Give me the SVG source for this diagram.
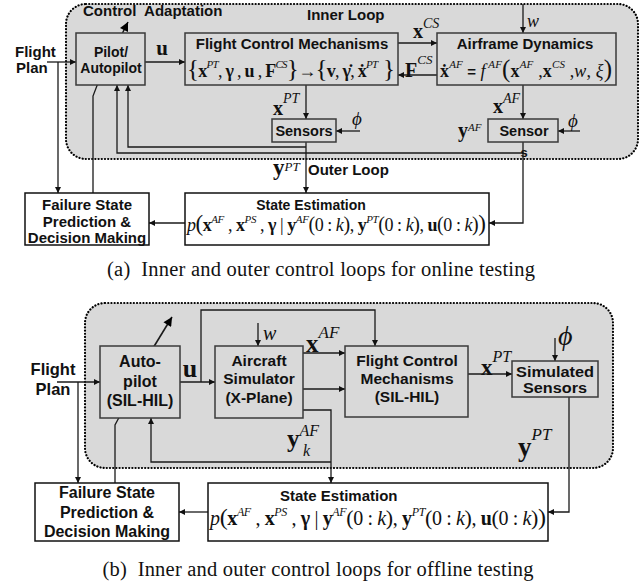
<svg xmlns="http://www.w3.org/2000/svg" width="643" height="583" viewBox="0 0 643 583">
  <defs>
    <marker id="ah" viewBox="0 0 10 10" refX="10" refY="5" markerWidth="7" markerHeight="6" markerUnits="userSpaceOnUse" orient="auto">
      <path d="M0,0 L10,5 L0,10 z" fill="#111"/>
    </marker>
    <marker id="ahBig" viewBox="0 0 10 10" refX="10" refY="5" markerWidth="11" markerHeight="9" markerUnits="userSpaceOnUse" orient="auto">
      <path d="M0,0 L10,5 L0,10 z" fill="#000"/>
    </marker>
  </defs>
  <style>
    .reg { fill: #d9d9d9; stroke: #000; stroke-width: 2.2; stroke-dasharray: 0.1 3.1; stroke-linecap: round; }
    .box { fill: #d9d9d9; stroke: #3a3a3a; stroke-width: 1.5; }
    .wbox { fill: #fff; stroke: #111; stroke-width: 1.5; }
    .ln { fill: none; stroke: #1a1a1a; stroke-width: 1.3; }
    .arr { marker-end: url(#ah); }
    .big { marker-end: url(#ahBig); stroke-width: 1.6; }
    .t { font-family: "Liberation Sans", Arial, sans-serif; font-weight: bold; fill: #111; }
    .c { text-anchor: middle; }
    .m { font-family: "Liberation Serif", "Times New Roman", serif; fill: #111; }
    .b { font-weight: bold; }
    .i { font-style: italic; }
    .s { font-style: italic; font-size: 11px; }
    .s2 { font-style: italic; font-size: 12px; }
    .cap { font-family: "Liberation Serif", "Times New Roman", serif; fill: #111; font-size: 20.5px; text-anchor: middle; }
  </style>

  <!-- ===== (a) online testing ===== -->
  <rect id="region-a" class="reg" x="66" y="4" width="572" height="155" rx="20"/>

  <g id="connectors-a">
    <line class="ln arr" x1="47" y1="62" x2="76" y2="62"/>
    <line class="ln arr" x1="58" y1="62" x2="58" y2="193"/>
    <line class="ln arr" x1="145" y1="62" x2="185" y2="62"/>
    <line class="ln arr" x1="398" y1="43" x2="437" y2="43"/>
    <line class="ln arr" x1="437" y1="75" x2="398" y2="75"/>
    <line class="ln arr" x1="523" y1="4" x2="523" y2="33"/>
    <line class="ln arr" x1="306" y1="85" x2="306" y2="119"/>
    <line class="ln arr" x1="523" y1="85" x2="523" y2="119"/>
    <line class="ln arr" x1="360" y1="131" x2="336" y2="131"/>
    <line class="ln arr" x1="580" y1="131" x2="558" y2="131"/>
    <line class="ln arr" x1="306" y1="142" x2="306" y2="193"/>
    <polyline class="ln arr" points="306,147 128,147 128,85"/>
    <polyline class="ln arr" points="523,142 523,223 489,223"/>
    <polyline class="ln arr" points="523,153 117,153 117,85"/>
    <line class="ln arr" x1="185" y1="223" x2="149" y2="223"/>
    <polyline class="ln" points="93,193 93,96 98,83"/>
    <line class="ln big" x1="117" y1="44" x2="128" y2="22"/>
  </g>

  <g id="pilot-a">
    <rect class="box" x="76" y="33" width="69" height="52"/>
    <text class="t c" x="111" y="57" font-size="14">Pilot/</text>
    <text class="t c" x="111" y="73" font-size="14">Autopilot</text>
  </g>
  <g id="fcm-a">
    <rect class="box" x="185" y="33" width="213" height="52"/>
    <text class="t c" x="292" y="49" font-size="15">Flight Control Mechanisms</text>
    <text class="m" x="187" y="77" font-size="18" textLength="208"><tspan font-size="25">{</tspan><tspan class="b">x</tspan><tspan class="s" baseline-shift="9">PT</tspan>, <tspan class="b">γ</tspan> , <tspan class="b">u</tspan> , <tspan class="b">F</tspan><tspan class="s" baseline-shift="9">CS</tspan><tspan font-size="25">}</tspan>→<tspan font-size="25">{</tspan><tspan class="b">v</tspan>, <tspan class="b">γ̇</tspan>, <tspan class="b">ẋ</tspan><tspan class="s" baseline-shift="9">PT</tspan><tspan font-size="25"> }</tspan></text>
  </g>
  <g id="airframe-a">
    <rect class="box" x="437" y="33" width="179" height="52"/>
    <text class="t c" x="525" y="49" font-size="15">Airframe Dynamics</text>
    <text class="m" x="440" y="77" font-size="18" textLength="172"><tspan class="b">ẋ</tspan><tspan class="s" baseline-shift="9">AF</tspan><tspan class="t" font-size="15"> = </tspan><tspan class="i">f</tspan><tspan class="s" baseline-shift="9"> AF</tspan><tspan font-size="25">(</tspan><tspan class="b">x</tspan><tspan class="s" baseline-shift="9">AF</tspan> ,<tspan class="b">x</tspan><tspan class="s" baseline-shift="9">CS</tspan> ,<tspan class="i">w</tspan>, <tspan class="i">ξ</tspan><tspan font-size="25">)</tspan></text>
  </g>
  <g id="sensors-a">
    <rect class="box" x="272" y="119" width="64" height="23"/>
    <text class="t c" x="304" y="136" font-size="14.5">Sensors</text>
  </g>
  <g id="sensor-a">
    <rect class="box" x="488" y="119" width="70" height="23"/>
    <text class="t c" x="524" y="136" font-size="14.5">Sensor</text>
  </g>
  <g id="estimation-a">
    <rect class="wbox" x="185" y="193" width="304" height="52"/>
    <text class="t c" x="311" y="210" font-size="14">State Estimation</text>
    <text class="m" x="187" y="231" font-size="18" textLength="299"><tspan class="i">p</tspan><tspan font-size="23">(</tspan><tspan class="b">x</tspan><tspan class="s" baseline-shift="8">AF</tspan> , <tspan class="b">x</tspan><tspan class="s" baseline-shift="8">PS</tspan> , <tspan class="b">γ</tspan>  | <tspan class="b">y</tspan><tspan class="s" baseline-shift="8">AF</tspan><tspan font-size="20">(</tspan>0 : <tspan class="i">k</tspan><tspan font-size="20">)</tspan>, <tspan class="b">y</tspan><tspan class="s" baseline-shift="8">PT</tspan><tspan font-size="20">(</tspan>0 : <tspan class="i">k</tspan><tspan font-size="20">)</tspan>, <tspan class="b">u</tspan><tspan font-size="20">(</tspan>0 : <tspan class="i">k</tspan><tspan font-size="20">)</tspan><tspan font-size="23">)</tspan></text>
  </g>
  <g id="failure-a">
    <rect class="wbox" x="25" y="193" width="124" height="52"/>
    <text class="t c" x="87" y="210" font-size="15">Failure State</text>
    <text class="t c" x="87" y="227" font-size="15">Prediction &amp;</text>
    <text class="t c" x="87" y="243" font-size="15">Decision Making</text>
  </g>

  <g id="labels-a">
    <text class="t" x="83" y="16" font-size="15" xml:space="preserve">Control  Adaptation</text>
    <text class="t" x="307" y="20" font-size="15">Inner Loop</text>
    <text class="t" x="15" y="57" font-size="15">Flight</text>
    <text class="t" x="16" y="73" font-size="15">Plan</text>
    <text class="m b c" x="162" y="55" font-size="21">u</text>
    <text class="m" x="413" y="38"><tspan class="b" font-size="20">x</tspan><tspan class="i" font-size="14" baseline-shift="10">CS</tspan></text>
    <text class="m" x="405" y="77"><tspan class="b" font-size="20">F</tspan><tspan class="i" font-size="13" baseline-shift="13">CS</tspan></text>
    <text class="m i" x="527" y="27" font-size="18">w</text>
    <text class="m" x="273" y="115"><tspan class="b" font-size="20">x</tspan><tspan class="i" font-size="14" baseline-shift="12">PT</tspan></text>
    <text class="m" x="493" y="113"><tspan class="b" font-size="20">x</tspan><tspan class="i" font-size="14" baseline-shift="10">AF</tspan></text>
    <text class="m" x="458" y="137"><tspan class="b" font-size="20">y</tspan><tspan class="i" font-size="11" baseline-shift="6">AF</tspan></text>
    <text class="m i" x="352" y="125" font-size="19">ϕ</text>
    <text class="m i" x="568" y="127" font-size="19">ϕ</text>
    <text class="t c" x="524" y="157" font-size="13">s</text>
    <text class="m" x="273" y="175"><tspan class="b" font-size="23">y</tspan><tspan class="i" font-size="13" baseline-shift="4">PT</tspan></text>
    <text class="t" x="308" y="175" font-size="15">Outer Loop</text>
  </g>

  <text class="cap" x="321" y="276" textLength="428" xml:space="preserve">(a)  Inner and outer control loops for online testing</text>

  <!-- ===== (b) offline testing ===== -->
  <rect id="region-b" class="reg" x="85" y="303" width="528" height="165" rx="20"/>

  <g id="connectors-b">
    <line class="ln arr" x1="57" y1="382" x2="100" y2="382"/>
    <line class="ln arr" x1="78" y1="382" x2="78" y2="483"/>
    <line class="ln arr" x1="180" y1="382" x2="215" y2="382"/>
    <polyline class="ln arr" points="201,382 201,310 375,310 375,346"/>
    <line class="ln arr" x1="258" y1="323" x2="258" y2="346"/>
    <line class="ln arr" x1="303" y1="353" x2="345" y2="353"/>
    <line class="ln arr" x1="303" y1="389" x2="345" y2="389"/>
    <polyline class="ln arr" points="303,410 331,410 331,483"/>
    <polyline class="ln arr" points="331,462 151,462 151,418"/>
    <line class="ln arr" x1="468" y1="374" x2="512" y2="374"/>
    <line class="ln arr" x1="555" y1="338" x2="555" y2="361"/>
    <polyline class="ln arr" points="569,397 569,512 548,512"/>
    <line class="ln arr" x1="208" y1="512" x2="179" y2="512"/>
    <polyline class="ln" points="115,483 115,425 122,412"/>
    <line class="ln big" x1="150" y1="353" x2="172" y2="317"/>
  </g>

  <g id="autopilot-b">
    <rect class="box" x="100" y="346" width="80" height="72"/>
    <text class="t c" x="140" y="367" font-size="16">Auto-</text>
    <text class="t c" x="140" y="387" font-size="16">pilot</text>
    <text class="t c" x="140" y="406" font-size="16">(SIL-HIL)</text>
  </g>
  <g id="simulator-b">
    <rect class="box" x="215" y="346" width="88" height="72"/>
    <text class="t c" x="259" y="366" font-size="15.5">Aircraft</text>
    <text class="t c" x="259" y="384" font-size="15.5">Simulator</text>
    <text class="t c" x="259" y="403" font-size="15.5">(X-Plane)</text>
  </g>
  <g id="fcm-b">
    <rect class="box" x="345" y="346" width="123" height="71"/>
    <text class="t c" x="407" y="366" font-size="15.5">Flight Control</text>
    <text class="t c" x="407" y="384" font-size="15.5">Mechanisms</text>
    <text class="t c" x="407" y="402" font-size="15.5">(SIL-HIL)</text>
  </g>
  <g id="simsensors-b">
    <rect class="box" x="512" y="361" width="86" height="36"/>
    <text class="t c" x="555" y="377" font-size="14.5" textLength="78" lengthAdjust="spacingAndGlyphs">Simulated</text>
    <text class="t c" x="555" y="393" font-size="14.5" textLength="64" lengthAdjust="spacingAndGlyphs">Sensors</text>
  </g>
  <g id="estimation-b">
    <rect class="wbox" x="208" y="483" width="340" height="58"/>
    <text class="t" x="280" y="501" font-size="15">State Estimation</text>
    <text class="m" x="210" y="525" font-size="20" textLength="336"><tspan class="i">p</tspan><tspan font-size="24">(</tspan><tspan class="b">x</tspan><tspan class="s2" baseline-shift="9">AF</tspan> , <tspan class="b">x</tspan><tspan class="s2" baseline-shift="9">PS</tspan> , <tspan class="b">γ</tspan>  | <tspan class="b">y</tspan><tspan class="s2" baseline-shift="9">AF</tspan><tspan font-size="22">(</tspan>0 : <tspan class="i">k</tspan><tspan font-size="22">)</tspan>, <tspan class="b">y</tspan><tspan class="s2" baseline-shift="9">PT</tspan><tspan font-size="22">(</tspan>0 : <tspan class="i">k</tspan><tspan font-size="22">)</tspan>, <tspan class="b">u</tspan><tspan font-size="22">(</tspan>0 : <tspan class="i">k</tspan><tspan font-size="22">)</tspan><tspan font-size="24">)</tspan></text>
  </g>
  <g id="failure-b">
    <rect class="wbox" x="35" y="483" width="144" height="58"/>
    <text class="t c" x="107" y="498" font-size="16">Failure State</text>
    <text class="t c" x="107" y="518" font-size="16">Prediction &amp;</text>
    <text class="t c" x="107" y="537" font-size="16">Decision Making</text>
  </g>

  <g id="labels-b">
    <text class="t c" x="53" y="375" font-size="16.5">Flight</text>
    <text class="t c" x="53" y="395" font-size="16.5">Plan</text>
    <text class="m b c" x="190" y="377" font-size="26">u</text>
    <text class="m i" x="263" y="340" font-size="20">w</text>
    <text class="m" x="306" y="352"><tspan class="b" font-size="25">x</tspan><tspan class="i" font-size="17" baseline-shift="14">AF</tspan></text>
    <text class="m" x="287" y="447"><tspan class="b" font-size="25">y</tspan><tspan class="i" font-size="16" baseline-shift="11">AF</tspan></text>
    <text class="m i" x="303" y="456" font-size="16">k</text>
    <text class="m" x="481" y="375"><tspan class="b" font-size="23">x</tspan><tspan class="i" font-size="16" baseline-shift="13">PT</tspan></text>
    <text class="m i" x="558" y="345" font-size="28">ϕ</text>
    <text class="m" x="518" y="456"><tspan class="b" font-size="27">y</tspan><tspan class="i" font-size="17" baseline-shift="16">PT</tspan></text>
  </g>

  <text class="cap" x="318" y="576" textLength="431" xml:space="preserve">(b)  Inner and outer control loops for offline testing</text>
</svg>
